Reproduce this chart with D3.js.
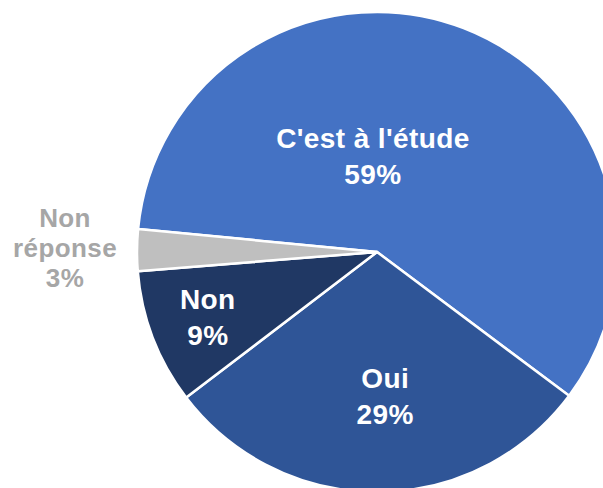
<!DOCTYPE html>
<html>
<head>
<meta charset="utf-8">
<script src="https://cdn.jsdelivr.net/npm/d3@7"></script>
<style>
  html, body { margin: 0; padding: 0; background: #fff; }
  svg { display: block; }
  .lbl { font-family: "Liberation Sans", Arial, sans-serif; font-weight: bold; }
</style>
</head>
<body>
<svg id="chart" width="603" height="488"></svg>
<script>
// data
var categories = ["C'est à l'étude", "Oui", "Non", "Non réponse"];
var values = [58.7, 29.4, 9.1, 2.8];
var colors = ["#4472C4", "#2F5597", "#203864", "#BFBFBF"];

// label placement (polar, relative to slice mid-angle), like excel "best fit"
var labelRadius = [0.40, 0.60, 0.755, 1.30];
var labelNudge = [-23.6, -3, 0, 0.3]; // degrees

var width = 603, height = 488;
var cx = 377, cy = 252, radius = 240;
var startDeg = -84.5;

var svg = d3.select("#chart");
var g = svg.append("g").attr("transform", "translate(" + cx + "," + cy + ")");

var pie = d3.pie()
  .sort(null)
  .value(function(d){ return d; })
  .startAngle(startDeg * Math.PI / 180)
  .endAngle(startDeg * Math.PI / 180 + 2 * Math.PI);

var arcs = pie(values);

var arc = d3.arc().innerRadius(0).outerRadius(radius);

g.selectAll("path.slice")
  .data(arcs)
  .enter().append("path")
  .attr("class", "slice")
  .attr("d", arc)
  .attr("fill", function(d, i){ return colors[i]; })
  .attr("stroke", "#fff")
  .attr("stroke-width", 2.5)
  .attr("stroke-linejoin", "round");

var pct = d3.format(".0f");

arcs.forEach(function(d, i) {
  var mid = (d.startAngle + d.endAngle) / 2 + labelNudge[i] * Math.PI / 180;
  var r = radius * labelRadius[i];
  var x = Math.sin(mid) * r;
  var y = -Math.cos(mid) * r;

  var outside = labelRadius[i] > 1;
  var lines = outside ? categories[i].split(" ") : [categories[i]];
  lines.push(pct(values[i]) + "%");

  var fs = outside ? 26 : 28;
  var lh = outside ? 30 : 35.7;
  var cap = fs * 0.716;
  var first = y - (lines.length - 1) * lh / 2 + cap / 2;

  var t = g.append("text")
    .attr("class", "lbl")
    .attr("text-anchor", "middle")
    .attr("font-size", fs + "px")
    .attr("letter-spacing", "0.4px")
    .attr("fill", outside ? "#A6A6A6" : "#fff");

  lines.forEach(function(s, k) {
    t.append("tspan")
      .attr("x", x)
      .attr("y", first + k * lh)
      .text(s);
  });
});
</script>
</body>
</html>
